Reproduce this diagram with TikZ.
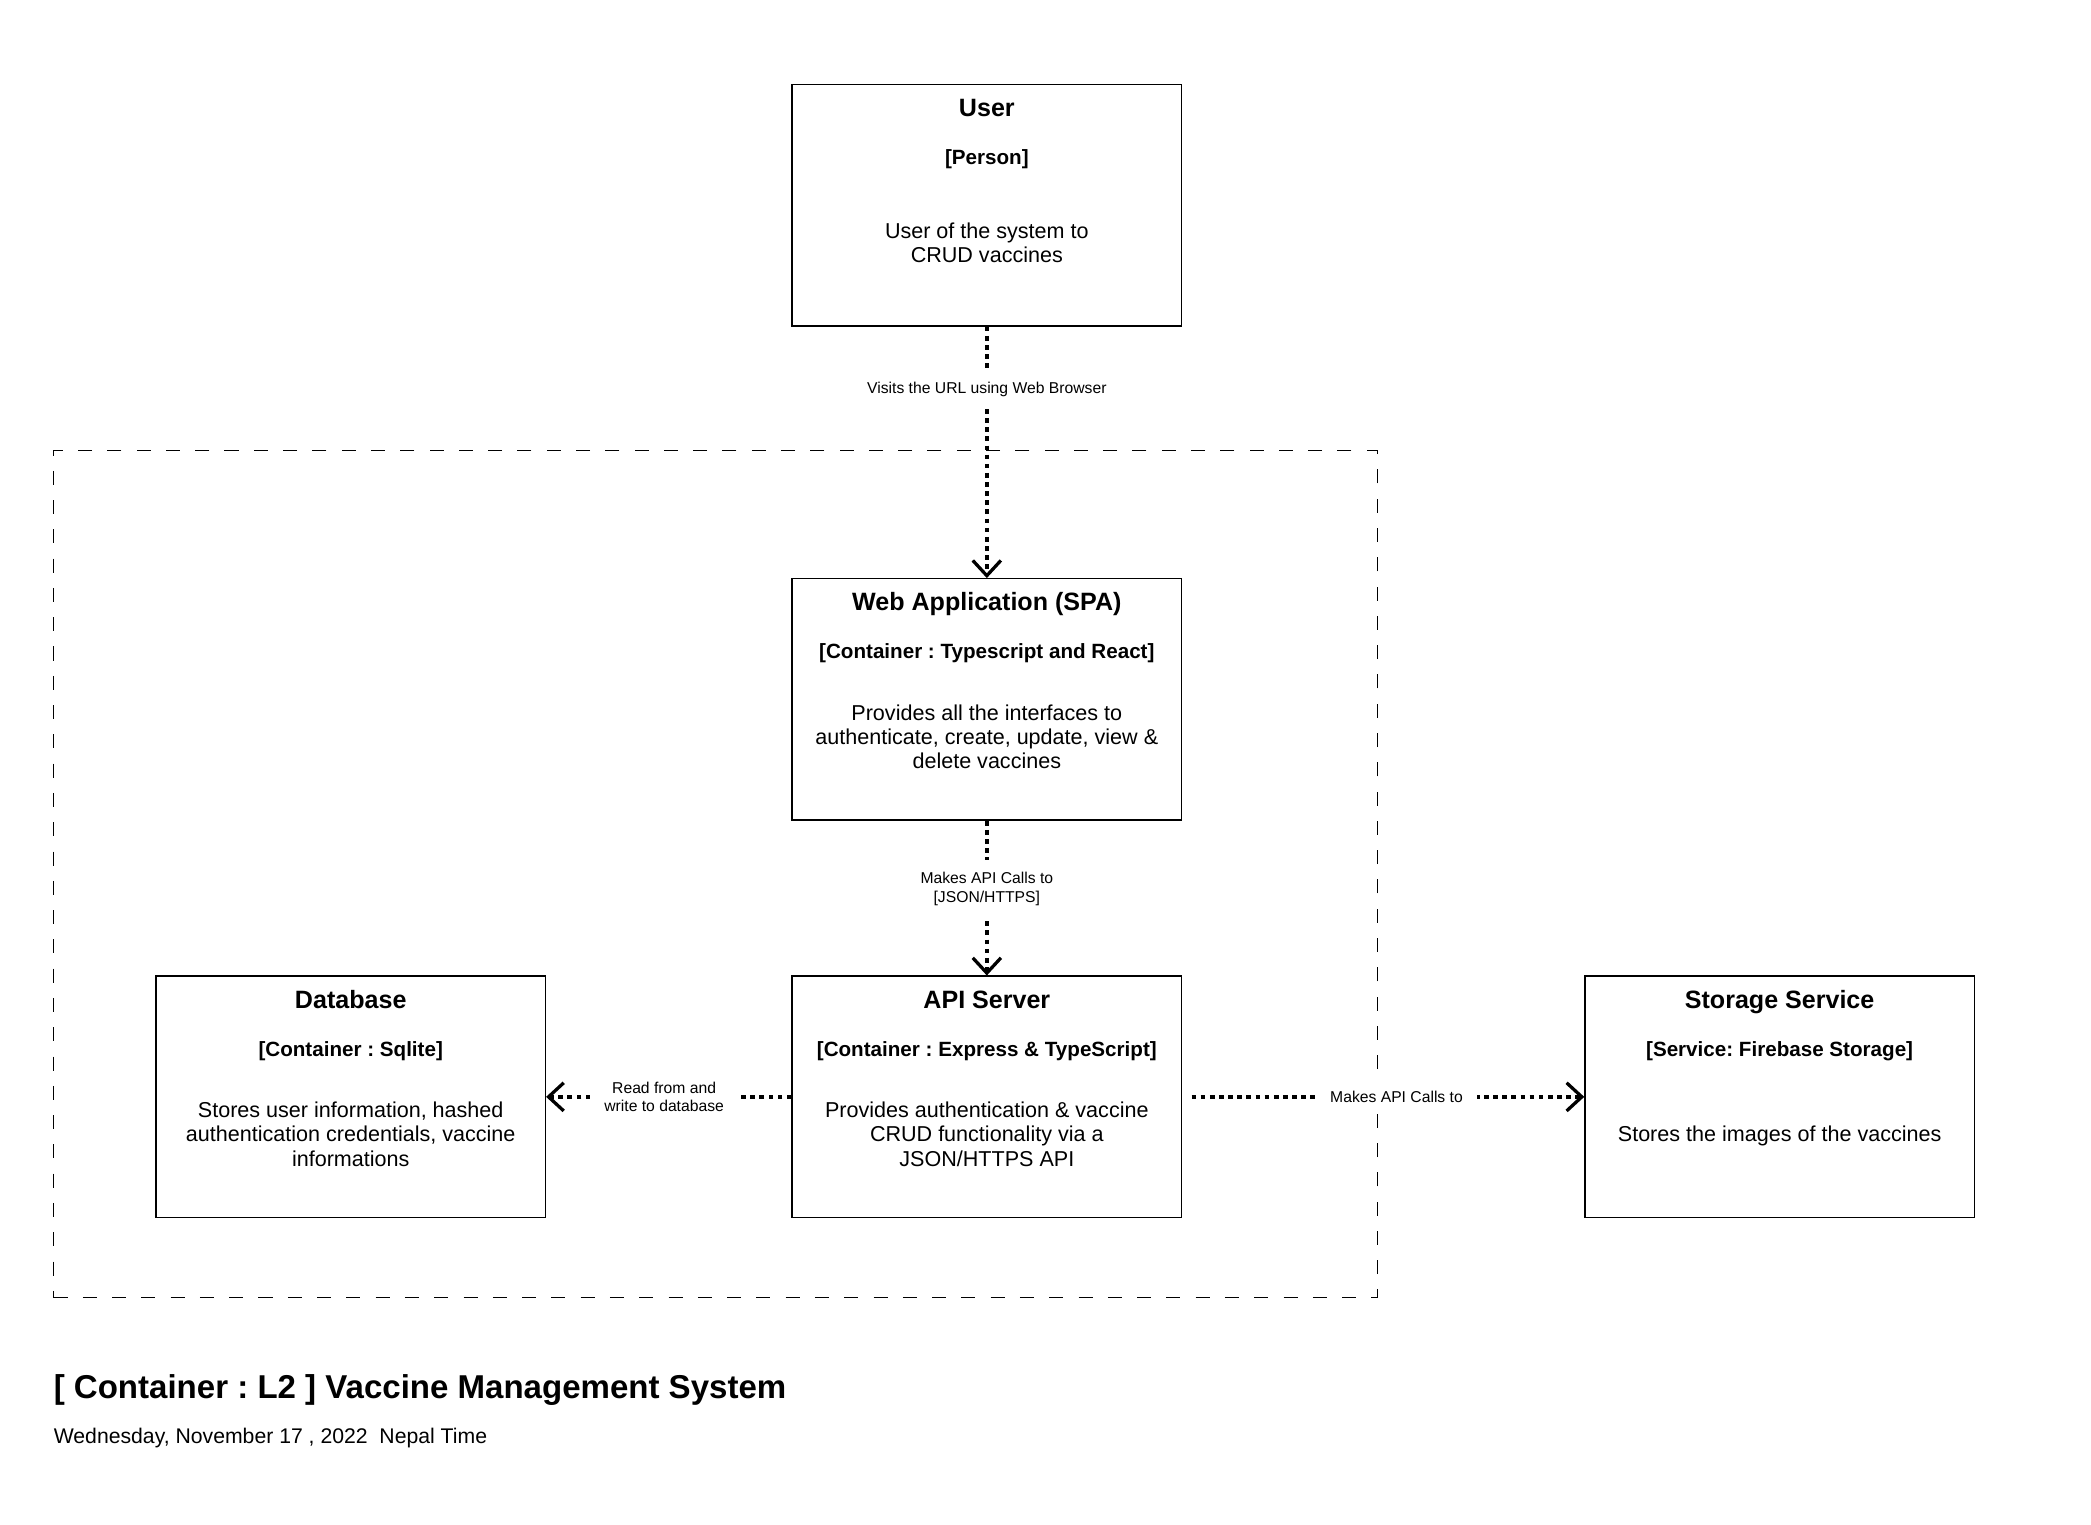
\documentclass[tikz,border=0pt]{standalone}
\usepackage{fontspec}
\setmainfont{Liberation Sans}
\frenchspacing
\usetikzlibrary{arrows.meta,calc}

\begin{document}
\begin{tikzpicture}[x=0.02cm,y=-0.02cm,
  box/.style={rectangle,draw=black,line width=0.6pt,inner sep=0pt,
    minimum width=5.84cm, minimum height=3.62cm},
  ttl/.style={font=\fontsize{10.7}{12}\selectfont\bfseries,
    text height=1.6ex, text depth=0.4ex},
  kind/.style={font=\fontsize{8.8}{10}\selectfont\bfseries,
    text height=1.6ex, text depth=0.4ex},
  desc/.style={font=\fontsize{9.2}{10.3}\selectfont},
  lbl/.style={font=\fontsize{6.7}{8}\selectfont,fill=white,
    inner xsep=6pt, inner ysep=5pt},
  to/.style={line width=1.7pt, dash pattern=on 2pt off 1.9pt,
    -{Straight Barb[length=6.5pt,width=12pt,line width=1.4pt]}},
  every node/.style={align=center}]

  \useasboundingbox (0,0) rectangle (1568,1143);

  % system boundary
  \node[draw=black,line width=0.55pt,dash pattern=on 6pt off 6.5pt,
    inner sep=0pt,minimum width=19.86cm,minimum height=12.7cm] (sys) at (536.5,655.5) {};

  \node[box] (usr) at (740,154) {};
  \node[ttl] (usr-t) at ($(usr.north)+(0,19)$) {User};
  \node[kind] (usr-k) at ($(usr.north)+(0,55)$) {[Person]};
  \node[desc] (usr-d) at ($(usr.north)+(0,119)$) {User of the system to\\CRUD vaccines};

  \node[box] (web) at (740,524.5) {};
  \node[ttl] (web-t) at ($(web.north)+(0,19)$) {Web Application (SPA)};
  \node[kind] (web-k) at ($(web.north)+(0,55)$) {[Container : Typescript and React]};
  \node[desc] (web-d) at ($(web.north)+(0,119)$) {Provides all the interfaces to\\authenticate, create, update, view \&\\delete vaccines};

  \node[box] (api) at (740,822.5) {};
  \node[ttl] (api-t) at ($(api.north)+(0,19)$) {API Server};
  \node[kind] (api-k) at ($(api.north)+(0,55)$) {[Container : Express \& TypeScript]};
  \node[desc] (api-d) at ($(api.north)+(0,119)$) {Provides authentication \& vaccine\\CRUD functionality via a\\JSON/HTTPS API};

  \node[box] (db) at (263,822.5) {};
  \node[ttl] (db-t) at ($(db.north)+(0,19)$) {Database};
  \node[kind] (db-k) at ($(db.north)+(0,55)$) {[Container : Sqlite]};
  \node[desc] (db-d) at ($(db.north)+(0,119)$) {Stores user information, hashed\\authentication credentials, vaccine\\informations};

  \node[box] (sto) at (1334.5,822.5) {};
  \node[ttl] (sto-t) at ($(sto.north)+(0,19)$) {Storage Service};
  \node[kind] (sto-k) at ($(sto.north)+(0,55)$) {[Service: Firebase Storage]};
  \node[desc] (sto-d) at ($(sto.north)+(0,120)$) {Stores the images of the vaccines};

  \draw[to] (usr) -- node[lbl,pos=0.25] (visit) {Visits the URL using Web Browser} (web);
  \draw[to] (web) -- node[lbl,pos=0.44] (call) {Makes API Calls to\\{}[JSON/HTTPS]} (api);
  \draw[to] (api) -- node[lbl,pos=0.519] (rw) {Read from and\\write to database} (db);
  \draw[to,shorten <=4pt] (api) -- node[lbl,pos=0.533] (ext) {Makes API Calls to} (sto);

  \node[anchor=west,inner sep=0pt,font=\fontsize{14.1}{16}\selectfont\bfseries] (head)
    at (40,1042) {[ Container : L2 ] Vaccine Management System};
  \node[anchor=west,inner sep=0pt,font=\fontsize{9.05}{10}\selectfont] (date)
    at (40,1078) {Wednesday, November 17 , 2022~~Nepal Time};
\end{tikzpicture}
\end{document}
